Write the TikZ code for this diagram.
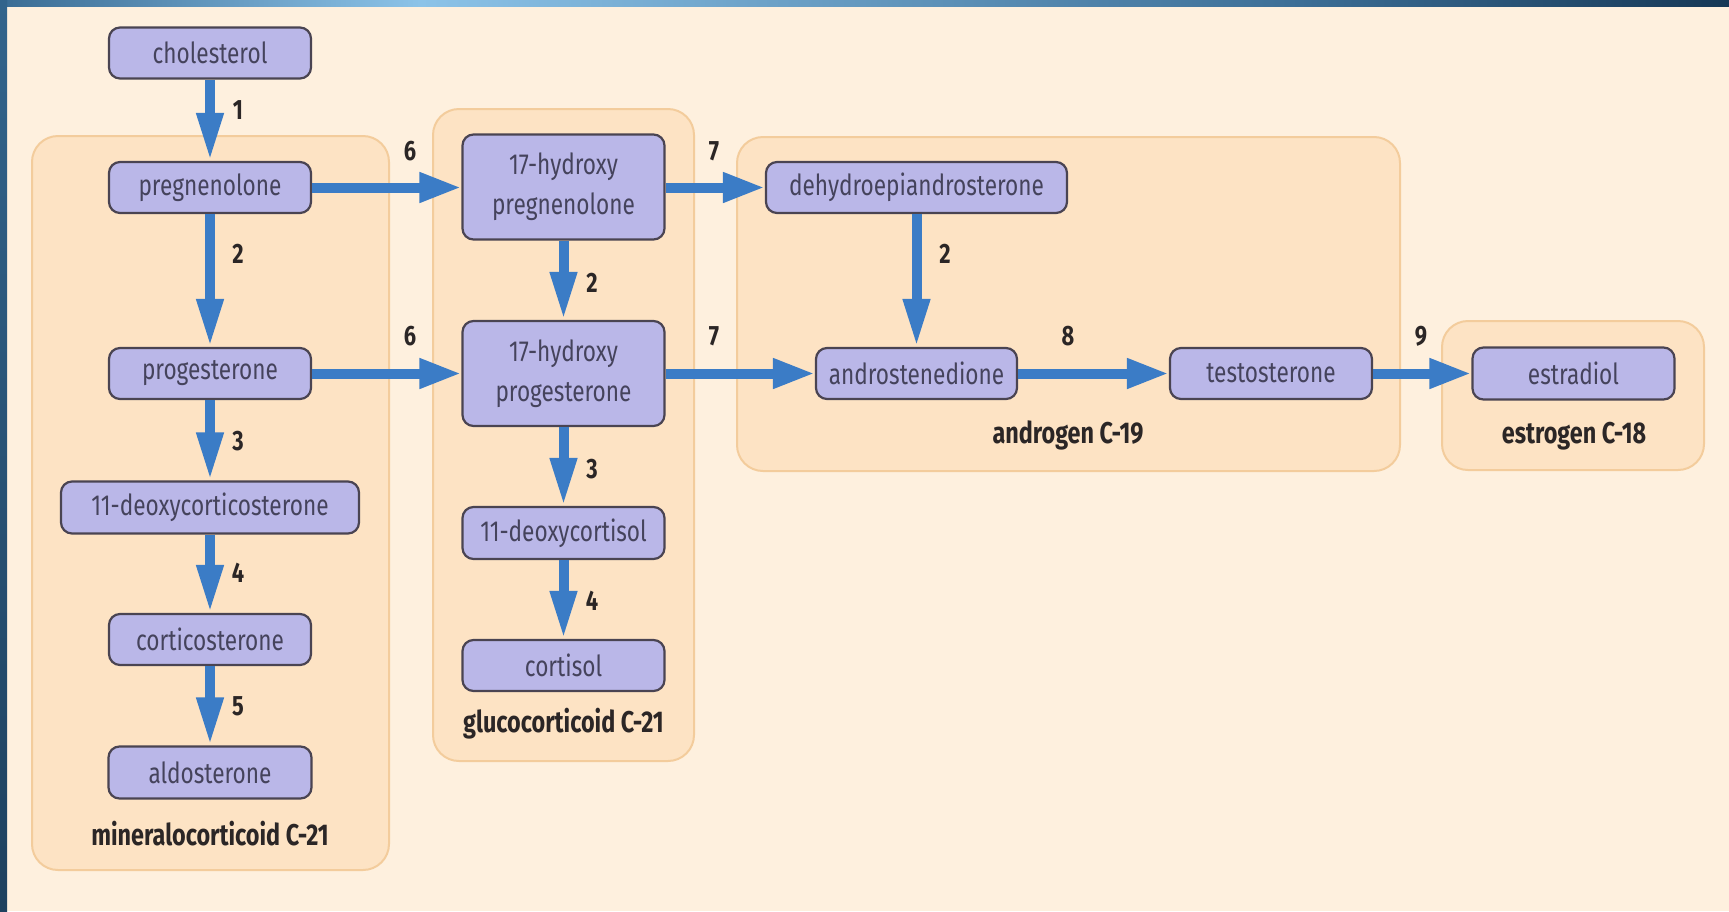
\documentclass[tikz,border=0pt]{standalone}
\usepackage{fontspec}
\setmainfont{Fira Sans}[FakeStretch=0.78]
\usetikzlibrary{arrows.meta}
\definecolor{bgc}{HTML}{FEF0DE}
\definecolor{grpfill}{HTML}{FDE3C4}
\definecolor{grpdraw}{HTML}{F3CC9C}
\definecolor{nodefill}{HTML}{BAB7E8}
\definecolor{nodedraw}{HTML}{4A4452}
\definecolor{nodetext}{HTML}{45435C}
\definecolor{arrblue}{HTML}{3B7CC6}
\definecolor{labtext}{HTML}{2B2626}
\tikzset{
  grp/.style={draw=grpdraw, fill=grpfill, line width=2pt, rounded corners=26pt},
  comp/.style={draw=nodedraw, fill=nodefill, line width=2.2pt, rounded corners=11pt,
    text=nodetext, font=\fontsize{29}{40}\selectfont, inner sep=0pt, align=center},
  grplab/.style={font=\fontsize{30}{34}\selectfont\bfseries, text=labtext},
  num/.style={font=\fontsize{28}{32}\selectfont\bfseries, text=labtext},
  varr/.style={draw=arrblue, line width=10pt, -{Triangle[length=48pt,width=25pt]}},
  harr/.style={draw=arrblue, line width=10pt, -{Triangle[length=42pt,width=28pt]}},
}
\begin{document}
\begin{tikzpicture}[x=1pt,y=-1pt]
\useasboundingbox (0,0) rectangle (1729,911);
\fill[bgc] (0,0) rectangle (1729,911);
% blue frame
\shade[left color={rgb,255:red,58;green,108;blue,148}, right color={rgb,255:red,140;green,195;blue,232}] (0,0) rectangle (420,6);
\shade[left color={rgb,255:red,140;green,195;blue,232}, right color={rgb,255:red,60;green,110;blue,150}] (420,0) rectangle (1300,6);
\shade[left color={rgb,255:red,60;green,110;blue,150}, right color={rgb,255:red,22;green,56;blue,86}] (1300,0) rectangle (1729,6);
\shade[top color={rgb,255:red,50;green,100;blue,140}, bottom color={rgb,255:red,30;green,65;blue,95}] (0,0) rectangle (7,911);

% groups
\draw[grp] (32,136) rectangle (389,870);
\draw[grp] (433,109) rectangle (694,761);
\draw[grp] (737,137) rectangle (1400,471);
\draw[grp] (1442,321) rectangle (1704,470);

% nodes
\node[comp, minimum width=202pt, minimum height=51pt] (chol) at (210,53) {cholesterol};
\node[comp, minimum width=202pt, minimum height=51pt] (preg) at (210,187.5) {pregnenolone};
\node[comp, minimum width=202pt, minimum height=51pt] (prog) at (210,373.5) {progesterone};
\node[comp, minimum width=298pt, minimum height=52pt] (doc) at (210,507.5) {11-deoxycorticosterone};
\node[comp, minimum width=202pt, minimum height=51pt] (cort) at (210,639.5) {corticosterone};
\node[comp, minimum width=203pt, minimum height=52pt] (aldo) at (210,772.5) {aldosterone};
\node[grplab] (lmin) at (210,834) {mineralocorticoid C-21};

\node[comp, minimum width=202pt, minimum height=105pt] (hpreg) at (563.5,187) {17-hydroxy\\pregnenolone};
\node[comp, minimum width=202pt, minimum height=105pt] (hprog) at (563.5,373.5) {17-hydroxy\\progesterone};
\node[comp, minimum width=202pt, minimum height=52pt] (dcol) at (563.5,533) {11-deoxycortisol};
\node[comp, minimum width=202pt, minimum height=51pt] (cortisol) at (563.5,665.5) {cortisol};
\node[grplab] (lglu) at (563.5,724) {glucocorticoid C-21};

\node[comp, minimum width=301pt, minimum height=51pt] (dhea) at (916.5,187.5) {dehydroepiandrosterone};
\node[comp, minimum width=201pt, minimum height=51pt] (andro) at (916.5,373.5) {androstenedione};
\node[comp, minimum width=202pt, minimum height=51pt] (testo) at (1271,373.5) {testosterone};
\node[grplab] (land) at (1068,435) {androgen C-19};

\node[comp, minimum width=202pt, minimum height=52pt] (estra) at (1573.5,373.5) {estradiol};
\node[grplab] (lest) at (1574,436) {estrogen C-18};

% arrows
\draw[varr] (chol) -- (preg);
\draw[varr] (preg) -- (prog);
\draw[varr] (prog) -- (doc);
\draw[varr] (doc) -- (cort);
\draw[varr] (cort) -- (aldo);
\draw[varr] (hpreg) -- (hprog);
\draw[varr] (hprog) -- (dcol);
\draw[varr] (dcol) -- (cortisol);
\draw[varr] (dhea) -- (andro);
\draw[harr] (preg.east) -- (hpreg.west |- preg.east);
\draw[harr] (prog.east) -- (hprog.west |- prog.east);
\draw[harr] (hpreg.east |- dhea.west) -- (dhea.west);
\draw[harr] (hprog.east |- andro.west) -- (andro.west);
\draw[harr] (andro) -- (testo);
\draw[harr] (testo) -- (estra);

% step numbers
\node[num] (n1) at (238,110) {1};
\node[num] (n2a) at (238,254) {2};
\node[num] (n3a) at (238,441) {3};
\node[num] (n4a) at (238,573) {4};
\node[num] (n5a) at (238,706) {5};
\node[num] (n6a) at (410,151) {6};
\node[num] (n6b) at (410,336) {6};
\node[num] (n2b) at (592,283) {2};
\node[num] (n3b) at (592,469) {3};
\node[num] (n4b) at (592,601) {4};
\node[num] (n7a) at (714,151) {7};
\node[num] (n7b) at (714,336) {7};
\node[num] (n2c) at (945,254) {2};
\node[num] (n8) at (1068,336) {8};
\node[num] (n9) at (1421,336) {9};
\end{tikzpicture}
\end{document}
